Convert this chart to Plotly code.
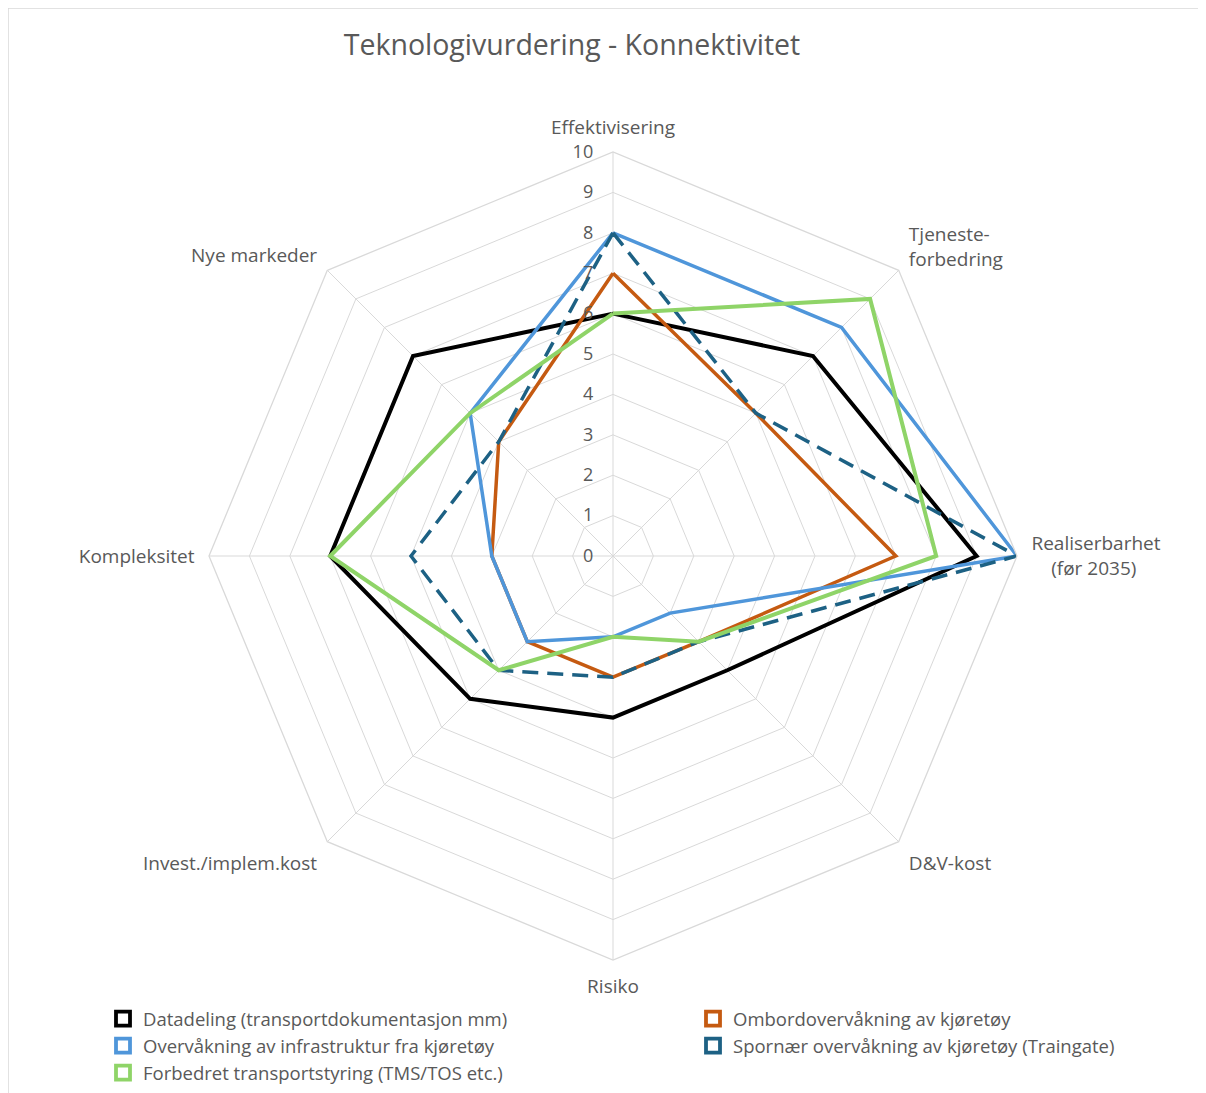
import plotly.graph_objects as go

categories = ["Effektivisering", "Tjeneste-forbedring", "Realiserbarhet (før 2035)",
              "D&V-kost", "Risiko", "Invest./implem.kost", "Kompleksitet", "Nye markeder"]
category_labels = ["Effektivisering", "Tjeneste-\u00a0<br>forbedring",
                   "Realiserbarhet<br>\u00a0\u00a0\u00a0\u00a0(før 2035)",
                   "D&V-kost", "Risiko", "Invest./implem.kost", "Kompleksitet", "Nye markeder"]

series_names = [
    "Datadeling (transportdokumentasjon mm)",
    "Ombordovervåkning av kjøretøy",
    "Overvåkning av infrastruktur fra kjøretøy",
    "Spornær overvåkning av kjøretøy (Traingate)",
    "Forbedret transportstyring (TMS/TOS etc.)",
]
datadeling = [6, 7, 9, 4, 4, 5, 7, 7]
ombord = [7, 5, 7, 3, 3, 3, 3, 4]
overvakning_infra = [8, 8, 10, 2, 2, 3, 3, 5]
spornaer = [8, 5, 10, 3, 3, 4, 5, 4]
forbedret = [6, 9, 8, 3, 2, 4, 7, 5]

radial_ticks = list(range(0, 11))

values = [datadeling, ombord, overvakning_infra, spornaer, forbedret]
colors = ["#000000", "#C55A11", "#4F96DA", "#1D6184", "#8FD468"]
widths = [4, 3.5, 3.5, 3.5, 4]
dashes = ["solid", "solid", "solid", "16px,9px", "solid"]
legend_ids = ["legend", "legend2", "legend", "legend2", "legend"]

fig = go.Figure()
cats_closed = categories + [categories[0]]
for name, vals, col, w, d in zip(series_names, values, colors, widths, dashes):
    fig.add_trace(go.Scatterpolar(
        r=vals + [vals[0]], theta=cats_closed, mode="lines",
        line=dict(color=col, width=w, dash=d),
        name=name, showlegend=False, hoverinfo="skip"))
# legend entries (square markers as in the original)
for name, col, lg in zip(series_names, colors, legend_ids):
    fig.add_trace(go.Scatterpolar(
        r=[None], theta=[categories[0]], mode="markers",
        marker=dict(symbol="square-open", size=14, color=col, line=dict(width=3.8, color=col)),
        name=name, showlegend=True, legend=lg))

font_family = "'Open Sans', 'Noto Sans', sans-serif"
text_col = "#595959"
grid_col = "#D9D9D9"
W, H = 1206, 1093

fig.update_layout(
    width=W, height=H,
    margin=dict(l=0, r=0, t=0, b=0),
    paper_bgcolor="white", plot_bgcolor="white",
    font=dict(family=font_family, color=text_col, size=19),
    title=dict(text="Teknologivurdering - Konnektivitet", x=564/W, xanchor="center",
               y=1 - 37/H, yanchor="middle",
               font=dict(size=28.5, color=text_col, family=font_family)),
    polar=dict(
        domain=dict(x=[201/W, 1009/W], y=[141/H, 949/H]),
        gridshape="linear",
        bgcolor="white",
        radialaxis=dict(range=[0, 10], tickvals=radial_ticks, ticktext=[str(t) for t in radial_ticks],
                        angle=90, tickangle=90, side="counterclockwise",
                        showline=False, ticks="outside", ticklen=13, tickcolor="rgba(0,0,0,0)",
                        gridcolor=grid_col, gridwidth=1.3,
                        tickfont=dict(size=18, color=text_col)),
        angularaxis=dict(rotation=90, direction="clockwise", categoryorder="array",
                         categoryarray=categories,
                         tickmode="array", tickvals=categories, ticktext=category_labels,
                         showline=True, linecolor=grid_col, linewidth=1.3,
                         gridcolor=grid_col, gridwidth=1.3,
                         ticks="outside", ticklen=10, tickcolor="rgba(0,0,0,0)",
                         tickfont=dict(size=19, color=text_col)),
    ),
    legend=dict(x=95/W, y=1 - 992/H, xanchor="left", yanchor="top",
                orientation="v", tracegroupgap=0, font=dict(size=18.5, color=text_col),
                bgcolor="rgba(0,0,0,0)", itemwidth=30),
    legend2=dict(x=685/W, y=1 - 992/H, xanchor="left", yanchor="top",
                 orientation="v", tracegroupgap=0, font=dict(size=18.5, color=text_col),
                 bgcolor="rgba(0,0,0,0)", itemwidth=30),
    shapes=[dict(type="rect", xref="paper", yref="paper",
                 x0=0, x1=1.02, y0=-0.02, y1=1,
                 line=dict(color="#D9D9D9", width=1.5), fillcolor="rgba(0,0,0,0)", layer="below")],
)

fig.write_html("out.html")
